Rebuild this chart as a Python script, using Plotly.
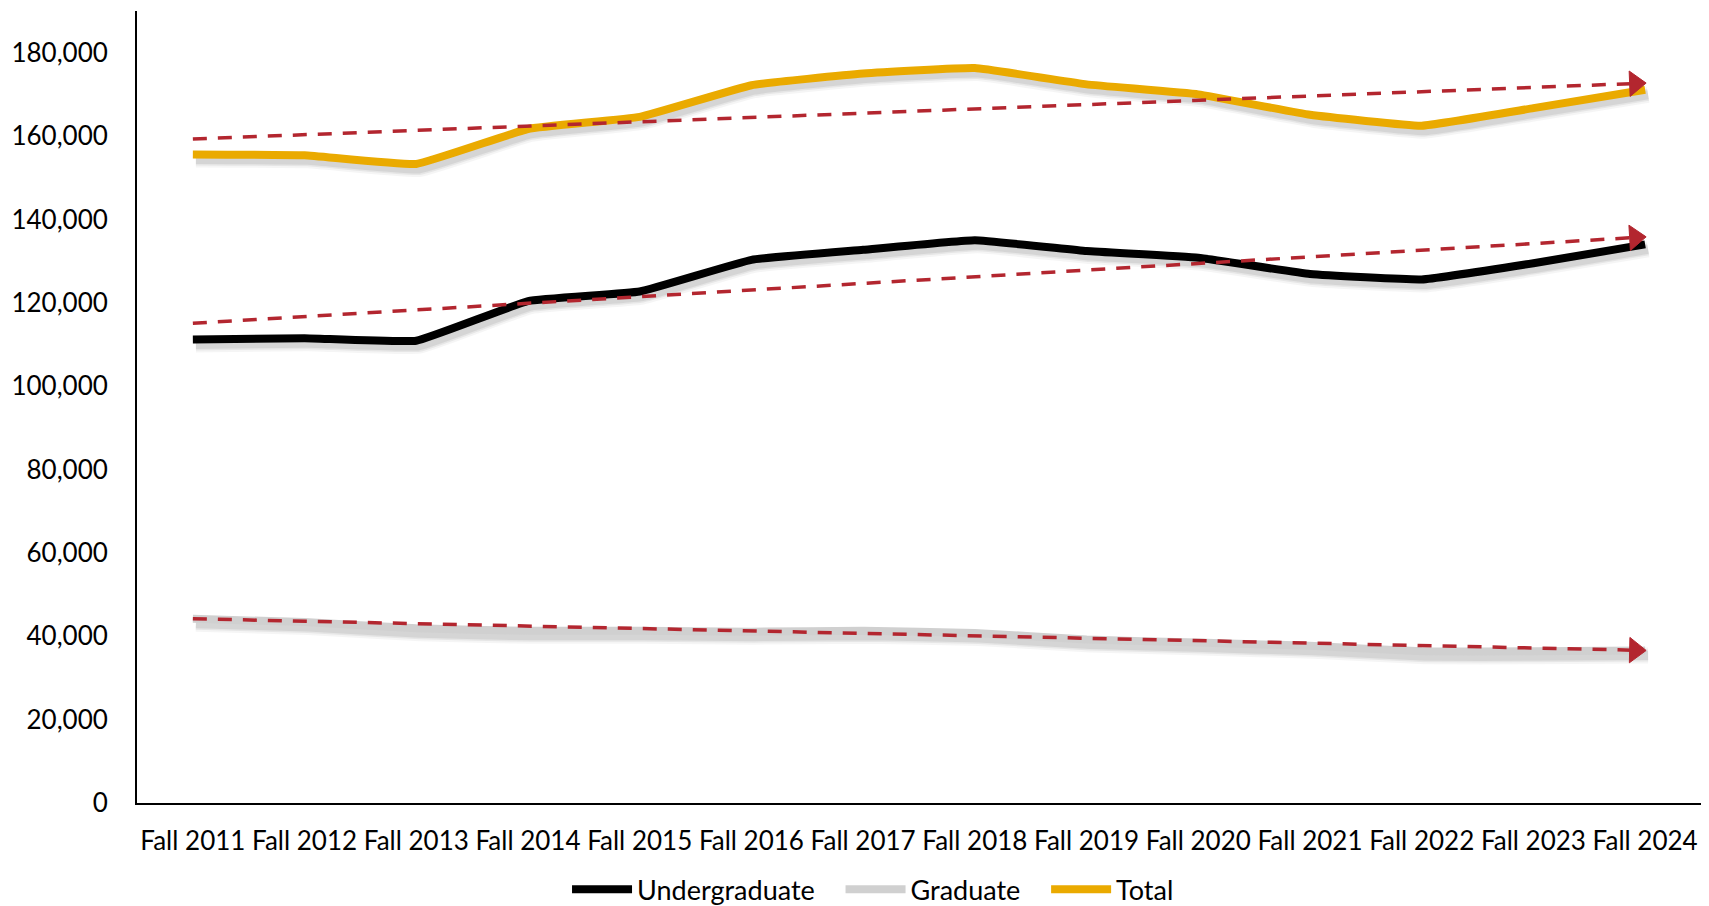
import plotly.graph_objects as go

years = ["Fall 2011", "Fall 2012", "Fall 2013", "Fall 2014", "Fall 2015", "Fall 2016", "Fall 2017",
         "Fall 2018", "Fall 2019", "Fall 2020", "Fall 2021", "Fall 2022", "Fall 2023", "Fall 2024"]
undergraduate = [111200, 111500, 110900, 120400, 122700, 130300, 132700,
                 135000, 132400, 130800, 126900, 125600, 129500, 134000]
graduate = [44200, 43400, 41900, 41300, 41300, 41100, 41300,
            40800, 39200, 38500, 37700, 36400, 36400, 36600]
total = [155600, 155400, 153300, 161700, 164600, 172200, 175000,
         176300, 172400, 170000, 165100, 162500, 166700, 171100]

# trendline endpoints (first and last category)
trend_undergrad = [115100, 135800]
trend_graduate = [44200, 36600]
trend_total = [159300, 172700]

BLACK = "#000000"
GREY = "#D0D0D0"
GOLD = "#EAAA00"
RED = "#B3262F"
FONT = "Lato"
NB = "\u00a0"

series = [("Undergraduate", undergraduate, BLACK),
          ("Graduate", graduate, GREY),
          ("Total", total, GOLD)]
trends = [trend_undergrad, trend_graduate, trend_total]

fig = go.Figure()

# soft shadows on the base (hidden) axes, whose range is shifted a few pixels
for name, vals, col in series:
    for w, a in [(16, 0.04), (12, 0.06), (9, 0.07)]:
        fig.add_trace(go.Scatter(x=years, y=vals, mode="lines", showlegend=False, hoverinfo="skip",
                                 line=dict(color=f"rgba(0,0,0,{a})", width=w, shape="spline", smoothing=0.3),
                                 xaxis="x", yaxis="y"))

for name, vals, col in series:
    fig.add_trace(go.Scatter(x=years, y=vals, mode="lines", name=name + NB * 3,
                             line=dict(color=col, width=8, shape="spline", smoothing=0.3),
                             xaxis="x2", yaxis="y2"))

for tr in trends:
    fig.add_trace(go.Scatter(x=[years[0], years[-1]], y=tr, mode="lines+markers", showlegend=False,
                             line=dict(color=RED, width=3.5, dash="14px,11px"),
                             marker=dict(symbol="triangle-up", angleref="previous", size=[0, 22], color=RED,
                                         standoff=[0, 10], opacity=1, line=dict(color=RED, width=1)),
                             xaxis="x2", yaxis="y2"))

YMAX = 190000
px_per_unit = 792 / YMAX
dy = 5 / px_per_unit
dx = 3 / 111.7

fig.update_layout(
    width=1709, height=906,
    margin=dict(l=137, r=8, t=11, b=103, autoexpand=False),
    paper_bgcolor="white", plot_bgcolor="white",
    font=dict(family=FONT, size=26, color="#000000"),
    xaxis=dict(type="category", categoryorder="array", categoryarray=years,
               range=[-0.5 - dx, 13.5 - dx], visible=False, fixedrange=True),
    yaxis=dict(range=[dy, YMAX + dy], visible=False),
    xaxis2=dict(type="category", categoryorder="array", categoryarray=years, overlaying="x",
                range=[-0.5, 13.5], showgrid=False, zeroline=False, showline=True,
                linecolor="#000000", linewidth=2, ticks="", ticklabelstandoff=14,
                tickfont=dict(family=FONT, size=26, color="#000000")),
    yaxis2=dict(range=[0, YMAX], overlaying="y", side="left", showgrid=False, zeroline=False,
                showline=True, linecolor="#000000", linewidth=2, ticks="",
                tickvals=list(range(0, 180001, 20000)), tickformat=",d", ticklabelstandoff=22,
                tickfont=dict(family=FONT, size=26, color="#000000")),
    legend=dict(orientation="h", x=0.477, xanchor="center", yref="container", y=0.018, yanchor="middle",
                itemwidth=60, font=dict(family=FONT, size=27, color="#000000"),
                tracegroupgap=0, itemclick=False),
)

fig.write_html("out.html", config={"displayModeBar": False},
               post_script="document.body.style.margin='0px';document.body.style.overflow='hidden';")
